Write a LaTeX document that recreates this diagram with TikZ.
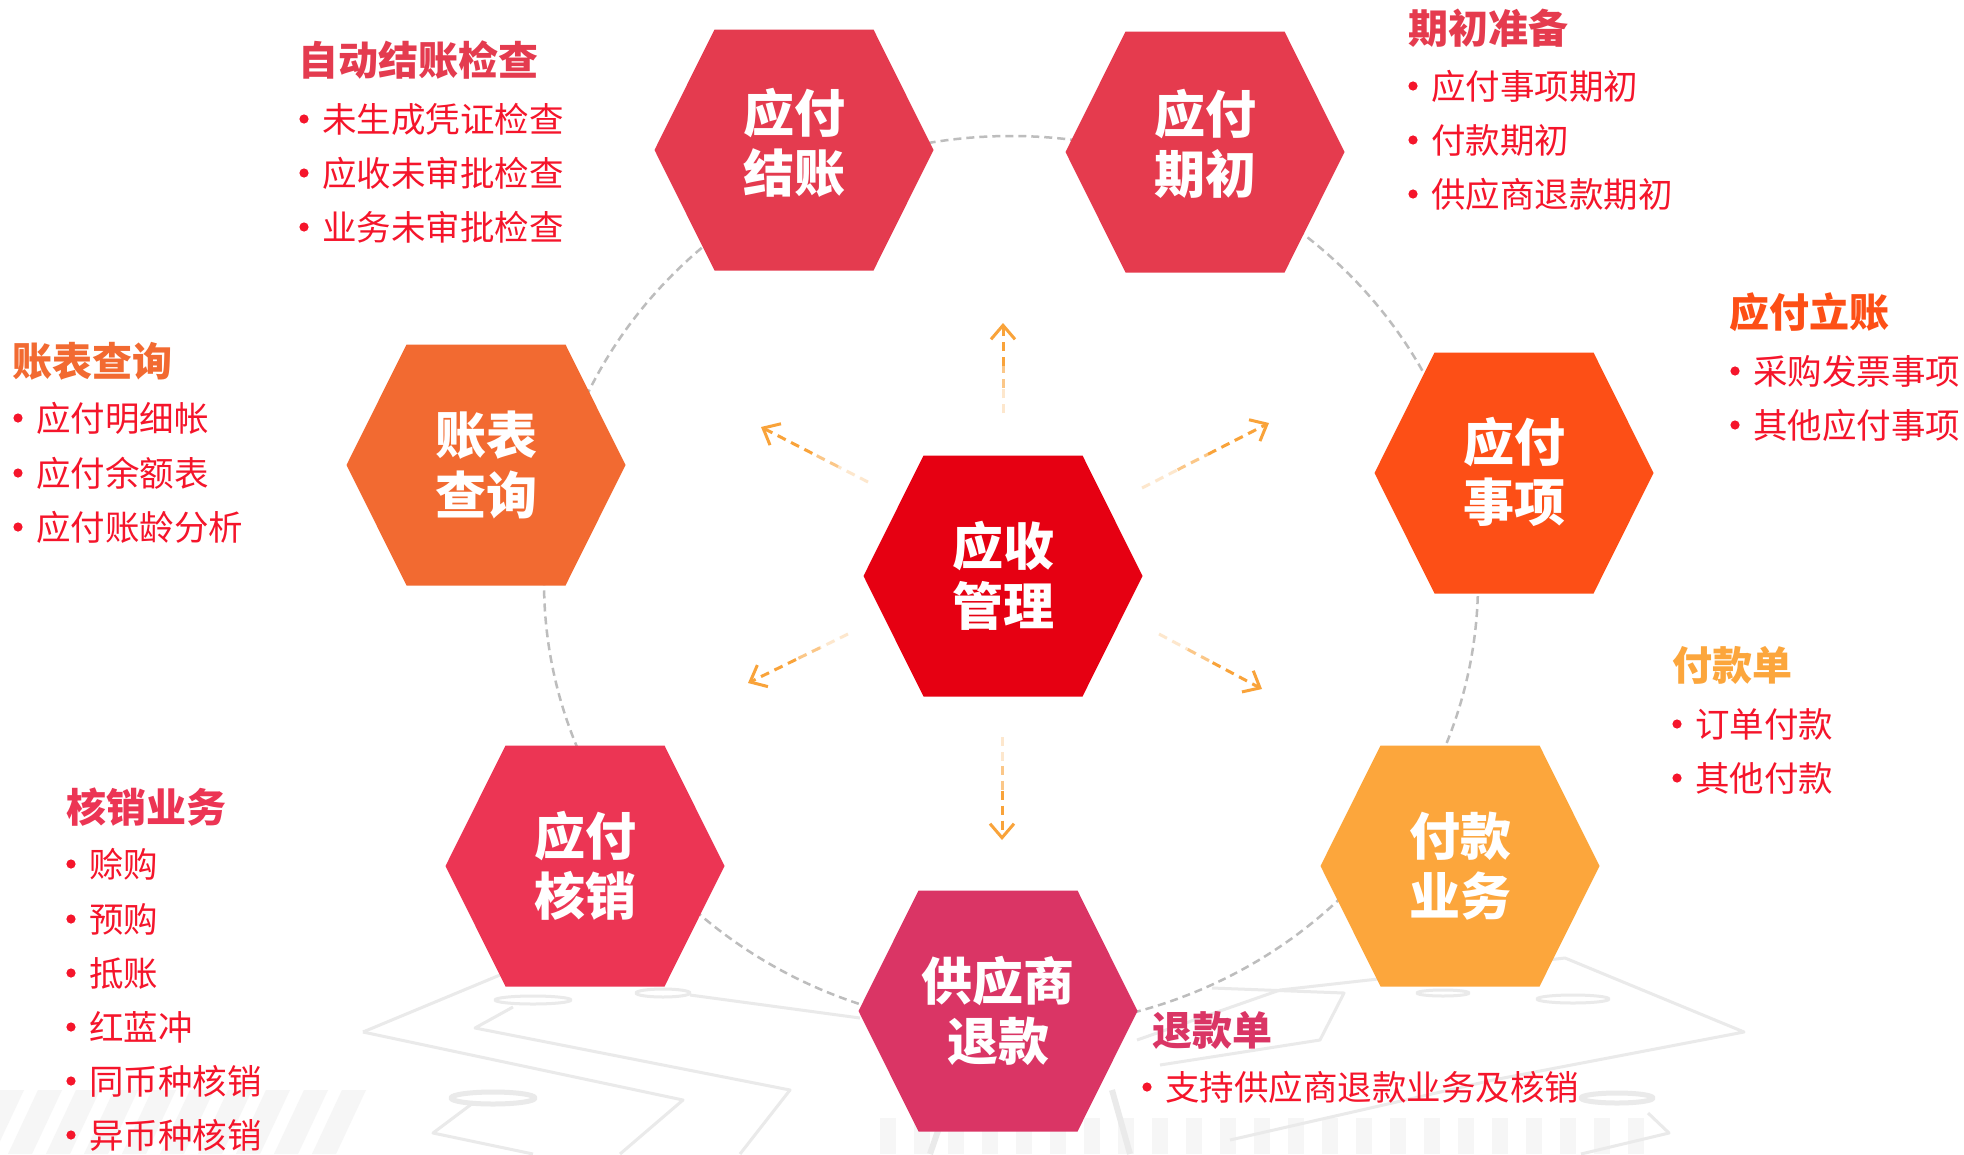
\documentclass[tikz,border=0pt]{standalone}
\usepackage{fontspec}
\setmainfont{Noto Sans CJK SC}
\usetikzlibrary{arrows.meta,calc}
\definecolor{cJZ}{HTML}{E43B4F}
\definecolor{cQC}{HTML}{E53B4E}
\definecolor{cSX}{HTML}{FD4F16}
\definecolor{cZB}{HTML}{F26A31}
\definecolor{cCT}{HTML}{E60012}
\definecolor{cHX}{HTML}{EC3554}
\definecolor{cGY}{HTML}{DA3565}
\definecolor{cFK}{HTML}{FCA63C}
\definecolor{cItem}{HTML}{F5152B}
\definecolor{cArrow}{HTML}{F9A33A}
\definecolor{cRing}{HTML}{BDBDBD}
\definecolor{cBg}{HTML}{EAEAEA}
\definecolor{cBgB}{HTML}{F6F6F6}
\tikzset{
  hextext/.style={text=white, align=center, inner sep=0pt,
    font=\fontsize{51}{60}\selectfont\bfseries},
  titletext/.style={anchor=west, inner sep=0pt,
    font=\fontsize{40}{48}\selectfont\bfseries},
  itemtext/.style={anchor=west, inner sep=0pt, text=cItem,
    font=\fontsize{34.5}{40}\selectfont},
  arrowline/.style={draw=cArrow, line width=3pt, dash pattern=on 9pt off 6pt},
  arrowtip/.style={-{Straight Barb[length=14pt,width=24pt,line width=3pt]}},
  ringline/.style={draw=cRing, line width=2.5pt, dash pattern=on 8pt off 5pt},
  bgline/.style={draw=cBg, line width=3pt, line join=round},
  bgband/.style={fill=cBgB},
}
% name, x, y, colour, text, text y-offset
\newcommand\hexnode[6]{%
  \fill[#4] (#2-139.5,#3) -- (#2-79.5,#3-120.5) -- (#2+79.5,#3-120.5)
    -- (#2+139.5,#3) -- (#2+79.5,#3+120.5) -- (#2-79.5,#3+120.5) -- cycle;
  \node[hextext] (#1) at (#2,#3+#6) {#5};
}
\newcommand\titlelabel[5]{\node[titletext, text=#4] (#1) at (#2,#3) {#5};}
\newcommand\itemlabel[4]{%
  \fill[cItem] (#2,#3) circle (4.6pt);
  \node[itemtext] (#1) at (#2+18,#3) {#4};
}
\newcommand\fadearrow[2]{%
  \draw[arrowline, draw opacity=0.25] (#1) -- ($(#1)!0.28!(#2)$);
  \draw[arrowline, draw opacity=0.6] ($(#1)!0.28!(#2)$) -- ($(#1)!0.52!(#2)$);
  \draw[arrowline, arrowtip] ($(#1)!0.52!(#2)$) -- (#2);
}
\begin{document}
\begin{tikzpicture}[x=1pt,y=-1pt]
\useasboundingbox (0,0) rectangle (1964,1154);
\fill[white] (0,0) rectangle (1964,1154);

% ---- faint background circuit ----
\foreach \i in {0,...,9} {\fill[bgband] (0+\i*38,1090) -- ++(24,0) -- ++(-30,64) -- ++(-24,0) -- cycle;}
\foreach \i in {0,...,22} {\fill[bgband] (880+\i*34,1118) rectangle ++(16,36);}
\draw[bgline] (363,1032) -- (500,975);
\draw[bgline] (363,1032) -- (683,1100) -- (620,1154);
\draw[bgline] (513,1007) -- (475,1028) -- (790,1090) -- (740,1154);
\draw[bgline] (533,1000) ellipse [x radius=38pt, y radius=4pt];
\draw[bgline, line width=5pt] (493,1098) ellipse [x radius=42pt, y radius=6pt];
\draw[bgline] (473,1103) -- (433,1133) -- (533,1154);
\draw[bgline] (663,993) ellipse [x radius=27pt, y radius=4pt];
\draw[bgline] (690,995) -- (860,1018);
\draw[bgline] (1137,1040) -- (1280,990) -- (1565,958) -- (1744,1032) -- (1493,1080) -- (1230,1140);
\draw[bgline] (1212,988) -- (1344,993) -- (1320,1040) -- (1160,1065);
\draw[bgline] (1443,993) ellipse [x radius=26pt, y radius=3pt];
\draw[bgline] (1573,999) ellipse [x radius=36pt, y radius=4pt];
\draw[bgline, line width=5pt] (1617,1098) ellipse [x radius=36pt, y radius=5pt];
\draw[bgline] (1648,1113) -- (1669,1133) -- (1581,1154);
\draw[bgline, line width=6pt] (1130,1154) -- (1112,1090);
\draw[bgline, line width=6pt] (930,1154) -- (940,1125);

% ---- dashed ring ----
\coordinate (ringc) at (1011,582);
\draw[ringline] (ringc) ellipse [x radius=467pt, y radius=446pt];

% ---- hexagons ----
\hexnode{jz}{794}{150}{cJZ}{应付\\结账}{-7}
\hexnode{qc}{1205}{152}{cQC}{应付\\期初}{-8}
\hexnode{sx}{1514}{473}{cSX}{应付\\事项}{-1}
\hexnode{zb}{486}{465}{cZB}{账表\\查询}{0}
\hexnode{hx}{585}{866}{cHX}{应付\\核销}{0}
\hexnode{gy}{998}{1011}{cGY}{供应商\\退款}{0}
\hexnode{fk}{1460}{866}{cFK}{付款\\业务}{0}
\hexnode{ct}{1003}{576}{cCT}{应收\\管理}{0}

% ---- orange dashed arrows ----
\coordinate (aUt) at (1003,413);  \coordinate (aUh) at (1003,323);
\coordinate (aDt) at (1002,737);  \coordinate (aDh) at (1002,840);
\coordinate (aULt) at (868,482);  \coordinate (aULh) at (761,427);
\coordinate (aURt) at (1142,488); \coordinate (aURh) at (1269,423);
\coordinate (aLLt) at (848,634);  \coordinate (aLLh) at (748,683);
\coordinate (aLRt) at (1159,634); \coordinate (aLRh) at (1262,689);
\fadearrow{aUt}{aUh}
\fadearrow{aDt}{aDh}
\fadearrow{aULt}{aULh}
\fadearrow{aURt}{aURh}
\fadearrow{aLLt}{aLLh}
\fadearrow{aLRt}{aLRh}

% ---- labels ----
\titlelabel{t1}{298}{60}{cJZ}{自动结账检查}
\itemlabel{t1a}{304}{119}{未生成凭证检查}
\itemlabel{t1b}{304}{173}{应收未审批检查}
\itemlabel{t1c}{304}{227}{业务未审批检查}

\titlelabel{t2}{1408}{28}{cQC}{期初准备}
\itemlabel{t2a}{1413}{86}{应付事项期初}
\itemlabel{t2b}{1413}{140}{付款期初}
\itemlabel{t2c}{1413}{194}{供应商退款期初}

\titlelabel{t3}{1729}{312}{cSX}{应付立账}
\itemlabel{t3a}{1735}{371}{采购发票事项}
\itemlabel{t3b}{1735}{425}{其他应付事项}

\titlelabel{t4}{12}{361}{cZB}{账表查询}
\itemlabel{t4a}{18}{418}{应付明细帐}
\itemlabel{t4b}{18}{473}{应付余额表}
\itemlabel{t4c}{18}{527}{应付账龄分析}

\titlelabel{t5}{1672}{665}{cFK}{付款单}
\itemlabel{t5a}{1677}{724}{订单付款}
\itemlabel{t5b}{1677}{778}{其他付款}

\titlelabel{t6}{66}{807}{cHX}{核销业务}
\itemlabel{t6a}{71}{864}{赊购}
\itemlabel{t6b}{71}{919}{预购}
\itemlabel{t6c}{71}{973}{抵账}
\itemlabel{t6d}{71}{1027}{红蓝冲}
\itemlabel{t6e}{71}{1081}{同币种核销}
\itemlabel{t6f}{71}{1135}{异币种核销}

\titlelabel{t7}{1152}{1030}{cGY}{退款单}
\itemlabel{t7a}{1147}{1087}{支持供应商退款业务及核销}
\end{tikzpicture}
\end{document}
